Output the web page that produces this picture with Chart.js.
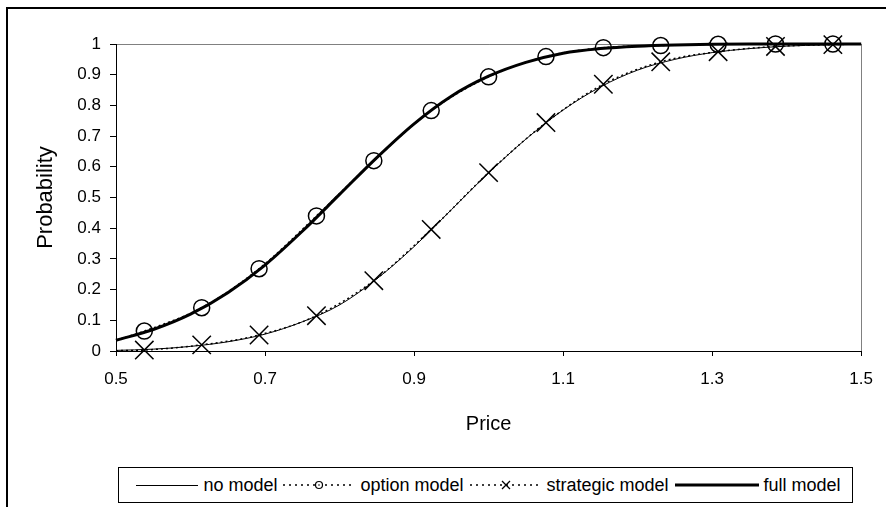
<!DOCTYPE html>
<html>
<head>
<meta charset="utf-8">
<title>Probability vs Price</title>
<script src="https://cdn.jsdelivr.net/npm/chart.js@4.4.0/dist/chart.umd.min.js"></script>
<style>
  html, body { margin: 0; padding: 0; background: #fff; }
  body { width: 886px; height: 507px; position: relative; overflow: hidden;
         font-family: "Liberation Sans", Arial, sans-serif; }
  #frame { position: absolute; left: 6px; top: 7px; width: 900px; height: 520px;
           border-left: 2px solid #000; border-top: 2px solid #000; }
  #wrap { position: absolute; left: 0; top: 0; width: 886px; height: 507px; }
  #legend { position: absolute; left: 118px; top: 467px; width: 735px; height: 36px;
            border: 1px solid #000; box-sizing: border-box; background: #fff;
            display: flex; align-items: center; justify-content: center;
            font-size: 18px; color: #000; white-space: nowrap; }
  .item { display: flex; align-items: center; }
  .item svg { margin: 0 5px 0 6px; }
</style>
</head>
<body>
<div id="frame"></div>
<div id="wrap"><canvas id="chart" width="886" height="507"></canvas></div>
<div id="legend"></div>

<script>
// ---- data ----
const seriesNames = ['no model', 'option model', 'strategic model', 'full model'];

// dense price grid for the plain curves
const priceGrid = [0.5, 0.55, 0.6, 0.65, 0.7, 0.75, 0.8, 0.85, 0.9, 0.95, 1.0,
                   1.05, 1.1, 1.15, 1.2, 1.25, 1.3, 1.35, 1.4, 1.45, 1.5];
const noModel   = [0.002, 0.006, 0.015, 0.03, 0.055, 0.095, 0.15, 0.235, 0.34, 0.46, 0.58,
                   0.69, 0.785, 0.86, 0.915, 0.95, 0.972, 0.985, 0.993, 0.997, 0.999];
const fullModel = [0.035, 0.07, 0.12, 0.19, 0.28, 0.39, 0.51, 0.63, 0.74, 0.83, 0.895,
                   0.94, 0.97, 0.985, 0.993, 0.997, 0.999, 1.0, 1.0, 1.0, 1.0];

// marker series (first and last entries are the curve ends, drawn without markers)
const markerPrice   = [0.5, 0.538, 0.615, 0.692, 0.769, 0.846, 0.923, 1.0,
                       1.077, 1.154, 1.231, 1.308, 1.385, 1.462, 1.5];
const optionModel   = [0.035, 0.065, 0.141, 0.268, 0.44, 0.62, 0.783, 0.893,
                       0.959, 0.988, 0.995, 0.999, 1.0, 1.0, 1.0];
const strategicModel = [0.001, 0.003, 0.02, 0.052, 0.115, 0.229, 0.396, 0.581,
                        0.744, 0.869, 0.942, 0.975, 0.992, 0.998, 1.0];

const yTicks = [0, 0.1, 0.2, 0.3, 0.4, 0.5, 0.6, 0.7, 0.8, 0.9, 1];
const xTicks = [0.5, 0.7, 0.9, 1.1, 1.3, 1.5];

// ---- helpers ----
const pairs = (xs, ys) => xs.map((x, i) => ({ x: x, y: ys[i] }));
const endless = r => ctx => (ctx.dataIndex === 0 || ctx.dataIndex === markerPrice.length - 1) ? 0 : r;
const FONT = "'Liberation Sans', Arial, sans-serif";

Chart.defaults.font.family = FONT;
Chart.defaults.color = '#000';

const PAD_LEFT = 33, PAD_TOP = 44, PAD_RIGHT = 23, PAD_BOTTOM = 71;

new Chart(document.getElementById('chart'), {
    type: 'line',
    data: {
        datasets: [
            {
                label: seriesNames[0],
                data: pairs(priceGrid, noModel),
                borderColor: '#000',
                borderWidth: 1,
                pointRadius: 0,
                cubicInterpolationMode: 'monotone',
                clip: false
            },
            {
                label: seriesNames[1],
                data: pairs(markerPrice, optionModel),
                borderColor: '#000',
                borderWidth: 1.5,
                borderDash: [2, 3],
                pointStyle: 'circle',
                pointRadius: endless(8),
                pointBorderWidth: 1.5,
                pointBorderColor: '#000',
                pointBackgroundColor: 'rgba(0,0,0,0)',
                cubicInterpolationMode: 'monotone',
                clip: false
            },
            {
                label: seriesNames[2],
                data: pairs(markerPrice, strategicModel),
                borderColor: '#000',
                borderWidth: 1.5,
                borderDash: [2, 3],
                pointStyle: 'crossRot',
                pointRadius: endless(13),
                pointBorderWidth: 1.5,
                pointBorderColor: '#000',
                cubicInterpolationMode: 'monotone',
                clip: false
            },
            {
                label: seriesNames[3],
                data: pairs(priceGrid, fullModel),
                borderColor: '#000',
                borderWidth: 3,
                pointRadius: 0,
                cubicInterpolationMode: 'monotone',
                clip: false
            }
        ]
    },
    options: {
        responsive: false,
        animation: false,
        events: [],
        layout: { padding: { left: PAD_LEFT, top: PAD_TOP, right: PAD_RIGHT, bottom: PAD_BOTTOM } },
        plugins: {
            legend: { display: false },
            tooltip: { enabled: false }
        },
        scales: {
            x: {
                type: 'linear',
                min: 0.5,
                max: 1.5,
                afterBuildTicks: s => { s.ticks = xTicks.map(v => ({ value: v })); },
                afterFit: s => { s.height = 507 - PAD_BOTTOM - 351; },
                ticks: {
                    font: { size: 17 },
                    padding: 13,
                    maxRotation: 0,
                    callback: v => String(v)
                },
                grid: {
                    color: c => (c.tick && Math.abs(c.tick.value - 1.5) < 1e-6) ? '#808080' : 'rgba(0,0,0,0)',
                    tickColor: '#000',
                    tickLength: 5,
                    lineWidth: 1
                },
                border: { color: '#000', width: 1 },
                title: {
                    display: true,
                    text: 'Price',
                    font: { size: 20 },
                    padding: 0
                }
            },
            y: {
                type: 'linear',
                min: 0,
                max: 1,
                afterBuildTicks: s => { s.ticks = yTicks.map(v => ({ value: v })); },
                afterFit: s => { s.width = 116 - PAD_LEFT; },
                ticks: {
                    font: { size: 17 },
                    padding: 9,
                    callback: v => String(v)
                },
                grid: {
                    color: c => (c.tick && Math.abs(c.tick.value - 1) < 1e-6) ? '#808080' : 'rgba(0,0,0,0)',
                    tickColor: '#000',
                    tickLength: 6,
                    lineWidth: 1
                },
                border: { color: '#000', width: 1 },
                title: {
                    display: true,
                    text: 'Probability',
                    font: { size: 22 },
                    padding: 0
                }
            }
        }
    }
});

// ---- legend (HTML, samples mimic the series styles) ----
const legendSamples = [
    '<svg width="62" height="12"><line x1="0" y1="6.5" x2="62" y2="6.5" stroke="#000" stroke-width="1"/></svg>',
    '<svg width="72" height="12"><line x1="0" y1="6" x2="72" y2="6" stroke="#000" stroke-width="1.5" stroke-dasharray="2,4"/><circle cx="36" cy="6" r="3.5" fill="#fff" stroke="#000" stroke-width="1.2"/><circle cx="36" cy="6" r="0.8" fill="#000"/></svg>',
    '<svg width="72" height="12"><line x1="0" y1="6" x2="72" y2="6" stroke="#000" stroke-width="1.5" stroke-dasharray="2,4"/><path d="M32 2 L40 10 M40 2 L32 10" stroke="#000" stroke-width="1.3"/></svg>',
    '<svg width="84" height="12"><line x1="0" y1="6" x2="84" y2="6" stroke="#000" stroke-width="3"/></svg>'
];
document.getElementById('legend').innerHTML = seriesNames.map((name, i) =>
    '<span class="item">' + legendSamples[i] + '<span>' + name + '</span></span>'
).join('');
</script>
</body>
</html>
